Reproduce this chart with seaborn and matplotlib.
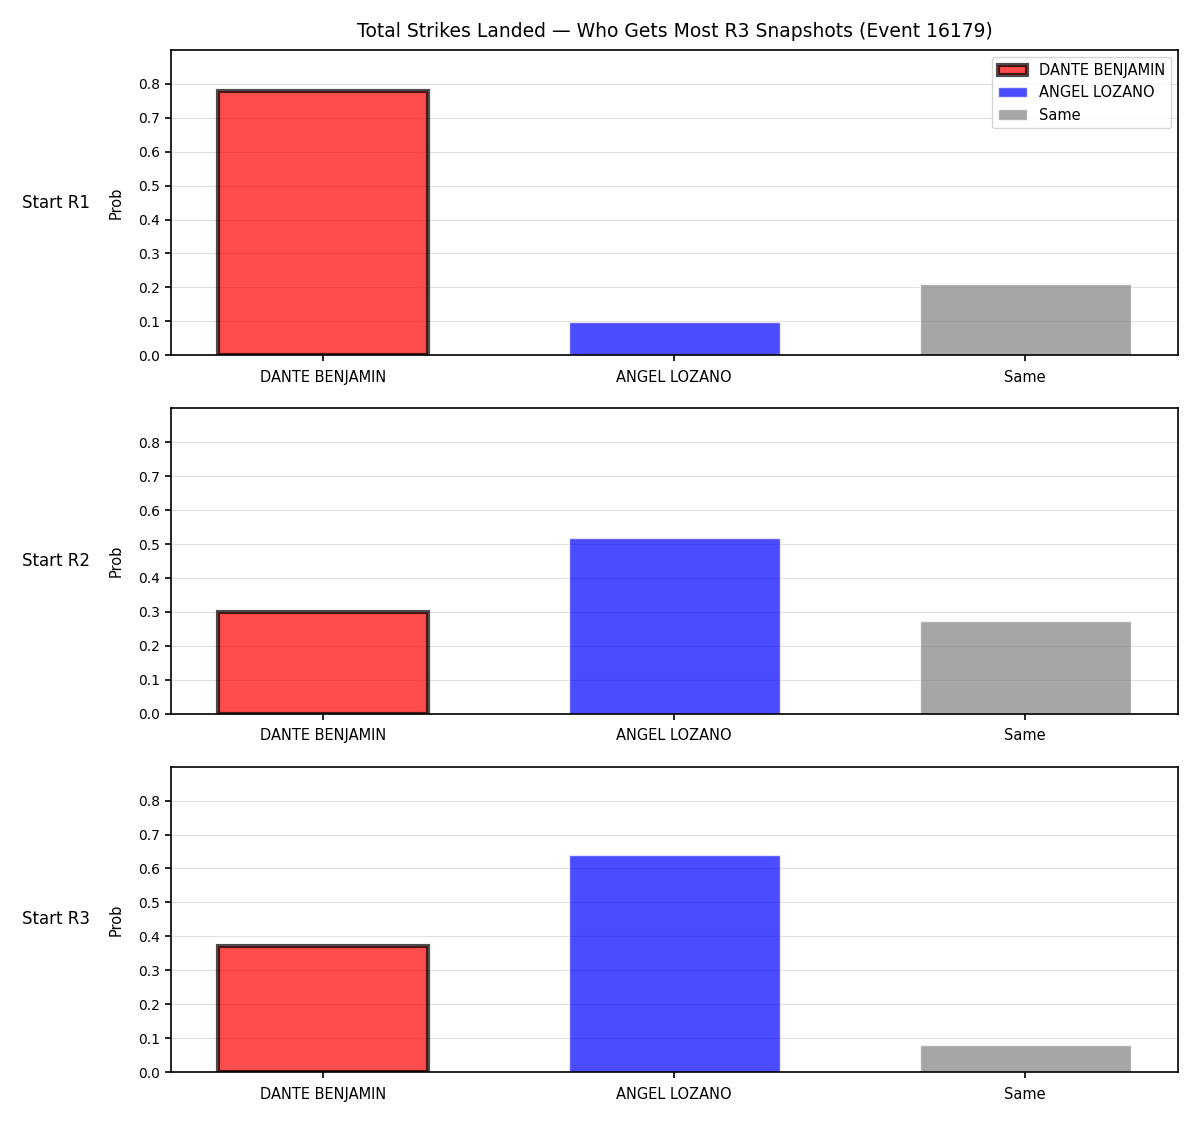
import numpy as np
import pandas as pd
import seaborn as sns
import matplotlib.pyplot as plt

outcomes = ['DANTE BENJAMIN', 'ANGEL LOZANO', 'Same']
rows = ['Start R1', 'Start R2', 'Start R3']
probs_r1 = [0.779, 0.098, 0.210]
probs_r2 = [0.300, 0.519, 0.274]
probs_r3 = [0.372, 0.639, 0.079]
colors = ['red', 'blue', 'gray']

if __name__ == '__main__':

    fig, axes = plt.subplots(3, 1, figsize=(12, 11.25), dpi=100)
    fig.subplots_adjust(left=0.1425, right=0.9817, top=0.9556, bottom=0.0471, hspace=0.174)

    for ax, row, vals in zip(axes, rows, [probs_r1, probs_r2, probs_r3]):
        df = pd.DataFrame({'outcome': outcomes, 'prob': vals})
        sns.barplot(data=df, x='outcome', y='prob', hue='outcome', palette=colors,
                    saturation=1, alpha=0.7, width=0.6, legend=False, ax=ax)
        for i, bar in enumerate(ax.patches):
            if i == 0:
                bar.set_edgecolor('black')
                bar.set_linewidth(3)
            else:
                bar.set_edgecolor('white')
                bar.set_linewidth(1)
        ax.set_xlim(-0.433, 2.435)
        ax.set_ylim(0, 0.9)
        ax.set_yticks(np.arange(0, 0.81, 0.1))
        ax.set_xlabel('')
        ax.set_ylabel('Prob', fontsize=10.5, labelpad=10)
        ax.grid(axis='y', color='#e0e0e0', linewidth=0.8)
        ax.set_axisbelow(True)
        for sp in ax.spines.values():
            sp.set_linewidth(1.2)
        ax.tick_params(width=1.2, length=4.5)
        ax.tick_params(axis='y', labelsize=10)
        ax.tick_params(axis='x', labelsize=10.5, pad=6)
        ax.text(-0.08, 0.5, row, transform=ax.transAxes, ha='right', va='center', fontsize=12)

    axes[0].legend(axes[0].patches, outcomes, loc='upper right', fontsize=10.5)
    axes[0].set_title('Total Strikes Landed — Who Gets Most R3 Snapshots (Event 16179)', fontsize=13.5, pad=9)
    fig.savefig('out.png')
